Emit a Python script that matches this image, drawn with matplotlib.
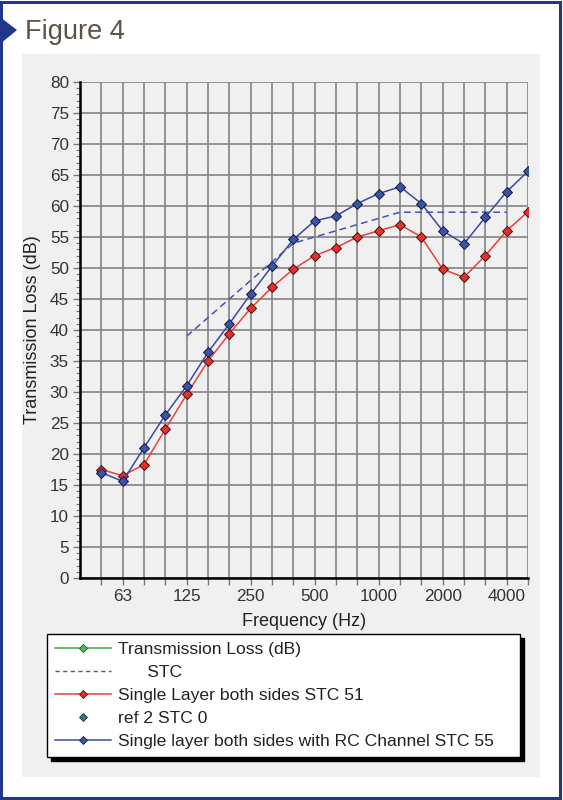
import matplotlib.pyplot as plt
from matplotlib.lines import Line2D
from matplotlib.patches import Rectangle, Polygon
from matplotlib.ticker import MultipleLocator

plt.rcParams['font.family'] = ['Liberation Sans', 'DejaVu Sans']

# 1/3 octave bands, 50 Hz .. 5000 Hz
bands = ['50', '63', '80', '100', '125', '160', '200', '250', '315', '400',
         '500', '630', '800', '1000', '1250', '1600', '2000', '2500', '3150',
         '4000', '5000']
shown_labels = ['63', '125', '250', '500', '1000', '2000', '4000']

single_layer = [17.5, 16.5, 18.3, 24.0, 29.6, 35.0, 39.4, 43.5, 46.9, 49.8,
                52.0, 53.3, 55.0, 56.0, 57.0, 55.0, 49.8, 48.5, 52.0, 56.0, 59.1]
rc_channel = [17.0, 15.6, 21.0, 26.3, 31.0, 36.4, 41.0, 45.8, 50.3, 54.6,
              57.6, 58.4, 60.4, 62.0, 63.1, 60.4, 56.0, 53.9, 58.2, 62.3, 65.6]
# STC 55 reference contour, 125 Hz .. 4000 Hz
stc_bands = bands[4:20]
stc_contour = [39, 42, 45, 48, 51, 54, 55, 56, 57, 58, 59, 59, 59, 59, 59, 59]

legend_labels = ['Transmission Loss (dB)', '      STC', 'Single Layer both sides STC 51',
                 'ref 2 STC 0', 'Single layer both sides with RC Channel STC 55']

navy = '#21388a'
panel = '#f0f0f0'
red_line = '#e8403a'
red_face = '#e2302b'
blue_line = '#3b4a9e'
blue_face = '#3b55a5'

fig = plt.figure(figsize=(5.63, 8.0), dpi=100)
fig.patch.set_facecolor('white')

# outer frame, panel and title marker
fig.patches.append(Rectangle((0.002, 0.003), 0.992, 0.995, transform=fig.transFigure,
                             fill=False, edgecolor=navy, linewidth=2.2, zorder=-1))
fig.patches.append(Rectangle((0.039, 0.029), 0.920, 0.903, transform=fig.transFigure,
                             facecolor=panel, edgecolor='none', zorder=-2))
fig.patches.append(Polygon([(0.0, 1 - 17 / 800), (17 / 563, 1 - 30 / 800), (0.0, 1 - 44 / 800)],
                           closed=True, transform=fig.transFigure, facecolor=navy,
                           edgecolor='none', zorder=-1))
fig.text(25 / 563, 1 - 32 / 800, 'Figure 4', fontsize=19.5, color='#5c5248',
         ha='left', va='center')

ax = fig.add_axes([80 / 563, 1 - 578 / 800, 448 / 563, 496 / 800])
ax.set_facecolor(panel)

xi = list(range(len(bands)))
stc_x = [bands.index(b) for b in stc_bands]

ax.plot(stc_x, stc_contour, color='#4a52b2', linewidth=1.1, dashes=(4.5, 2.8))
ax.plot(xi, single_layer, color=red_line, linewidth=1.1, marker='D', markersize=5.4,
        markerfacecolor=red_face, markeredgecolor='#4a1010', markeredgewidth=0.7)
ax.plot(xi, rc_channel, color=blue_line, linewidth=1.1, marker='D', markersize=5.4,
        markerfacecolor=blue_face, markeredgecolor='#151a45', markeredgewidth=0.7)

ax.set_xlim(-1, len(bands) - 1)
ax.set_ylim(0, 80)
ax.set_xticks(xi)
ax.set_xticklabels([b if b in shown_labels else '' for b in bands])
ax.yaxis.set_major_locator(MultipleLocator(5))
ax.yaxis.set_minor_locator(MultipleLocator(1))
ax.grid(True, which='major', color='#888888', linewidth=1.25)
ax.set_axisbelow(True)

for s in ['top', 'right']:
    ax.spines[s].set_visible(False)
for s in ['left', 'bottom']:
    ax.spines[s].set_color('black')
    ax.spines[s].set_linewidth(1.8)
    ax.spines[s].set_zorder(3)

ax.tick_params(axis='both', which='major', length=5, width=1, color='#777777',
               labelsize=12.3, labelcolor='#333333', pad=3)
ax.tick_params(axis='y', which='minor', length=3, width=0.8, color='#777777')

fig.text(33 / 563, 1 - 330 / 800, 'Transmission Loss (dB)', rotation=90,
         ha='center', va='center', fontsize=13, color='#222222')
fig.text(304 / 563, 1 - 622 / 800, 'Frequency (Hz)', ha='center', va='center',
         fontsize=13, color='#222222')

handles = [
    Line2D([], [], color='#3aa845', linewidth=1.1, marker='D', markersize=4.5,
           markerfacecolor='#4cc05a', markeredgecolor='#1d5a25', markeredgewidth=0.6),
    Line2D([], [], color='#4a52b2', linewidth=1.0, dashes=(3, 2.5)),
    Line2D([], [], color=red_line, linewidth=1.1, marker='D', markersize=4.5,
           markerfacecolor=red_face, markeredgecolor='#4a1010', markeredgewidth=0.6),
    Line2D([], [], linestyle='none', marker='D', markersize=4.5,
           markerfacecolor='#2f7f7c', markeredgecolor='#123433', markeredgewidth=0.6),
    Line2D([], [], color=blue_line, linewidth=1.1, marker='D', markersize=4.5,
           markerfacecolor=blue_face, markeredgecolor='#151a45', markeredgewidth=0.6),
]
leg = ax.legend(handles=handles, labels=legend_labels, loc='upper left',
                bbox_to_anchor=(47 / 563, 0.0, 473 / 563, 1 - 634 / 800),
                bbox_transform=fig.transFigure, mode='expand', borderaxespad=0,
                fontsize=12.6, frameon=True, fancybox=False, framealpha=1,
                edgecolor='black', handlelength=3.2, handletextpad=0.4,
                labelspacing=0.44, borderpad=0.45,
                shadow={'color': 'black', 'alpha': 1, 'ox': 3, 'oy': -3})
leg.get_frame().set_linewidth(1.0)
for t in leg.get_texts():
    t.set_color('#222222')

fig.savefig('out.png', dpi=100)
